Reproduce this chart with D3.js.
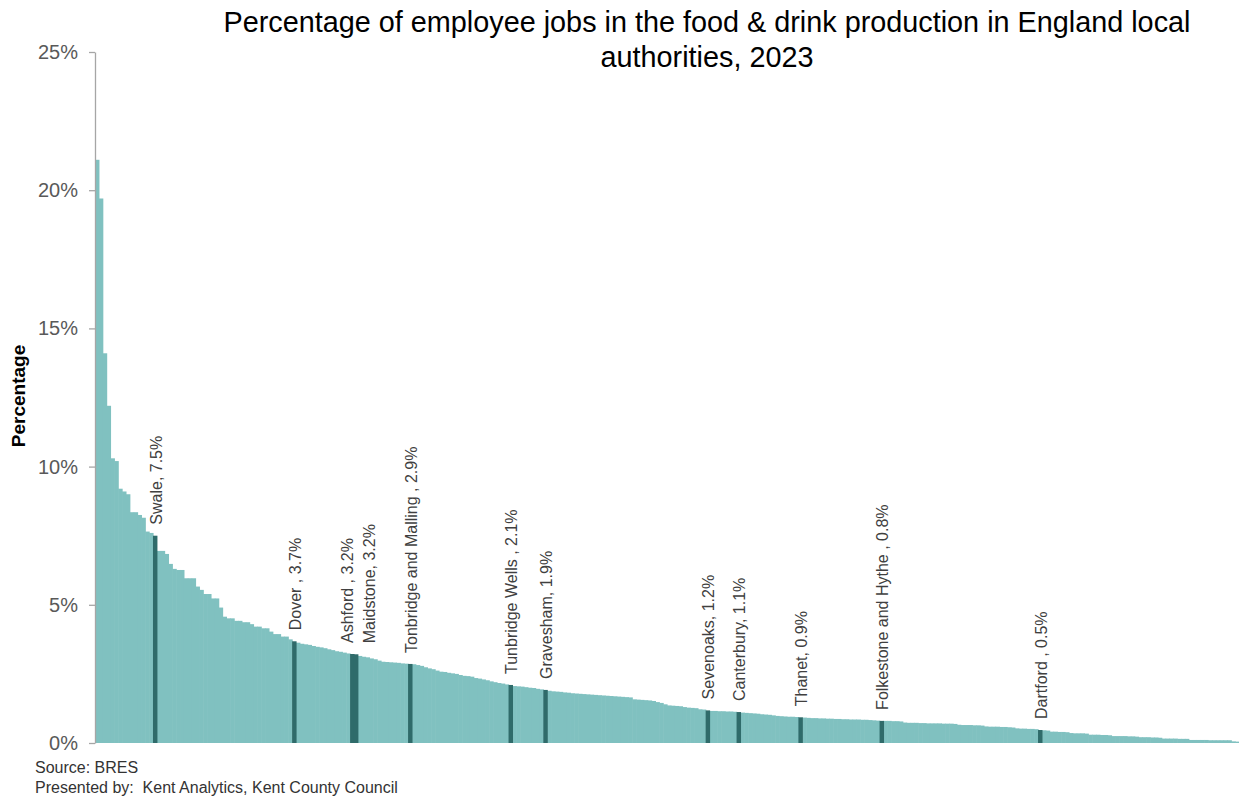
<!DOCTYPE html>
<html>
<head>
<meta charset="utf-8">
<script src="https://cdn.jsdelivr.net/npm/d3@7"></script>
<style>
  html, body { margin: 0; padding: 0; background: #fff; }
  svg { display: block; font-family: "Liberation Sans", Arial, sans-serif; }
</style>
</head>
<body>
<svg id="chart" width="1239" height="796"></svg>
<script>
// Share of employee jobs in food & drink production, England local authorities (sorted, %)
const values = [
  21.1, 19.7, 14.1, 12.2, 10.3, 10.2, 9.2, 9.1, 9.0, 8.35, 8.35, 8.25, 8.15, 7.65, 7.6, 7.5,
  6.95, 6.95, 6.84, 6.48, 6.3, 6.26, 6.26, 5.96, 5.96, 5.96, 5.66, 5.54, 5.39, 5.39, 5.23, 5.23,
  4.9, 4.57, 4.51, 4.51, 4.42, 4.42, 4.37, 4.37, 4.3, 4.21, 4.21, 4.15, 4.15, 4.03, 3.94, 3.94,
  3.85, 3.85, 3.75, 3.68,
  3.63, 3.59, 3.57, 3.55, 3.51, 3.48, 3.46, 3.43, 3.39, 3.36,
  3.32, 3.3, 3.27, 3.24, 3.22, 3.21,
  3.15, 3.12, 3.1, 3.06, 3.03, 2.98, 2.94, 2.93, 2.92, 2.91,
  2.9, 2.88, 2.87, 2.86,
  2.85, 2.82, 2.79, 2.74, 2.7, 2.67, 2.62, 2.58, 2.57, 2.54,
  2.52, 2.5, 2.46, 2.43, 2.42, 2.4, 2.35, 2.33, 2.3, 2.27,
  2.23, 2.2, 2.17, 2.15, 2.12, 2.1,
  2.06, 2.05, 2.04, 2.02, 2.0, 1.99, 1.96, 1.94, 1.92, 1.89, 1.87,
  1.86, 1.85, 1.83, 1.82, 1.8, 1.79, 1.78, 1.77, 1.76, 1.75,
  1.74, 1.73, 1.72, 1.71, 1.7, 1.69, 1.68, 1.67, 1.66, 1.65,
  1.58, 1.57, 1.56, 1.55, 1.54, 1.52, 1.48, 1.45, 1.4, 1.36,
  1.35, 1.34, 1.33, 1.3, 1.28, 1.27, 1.26, 1.22, 1.21, 1.18,
  1.16, 1.16, 1.15, 1.15, 1.14, 1.14, 1.13, 1.12,
  1.1, 1.09, 1.08, 1.07, 1.06, 1.04, 1.03, 1.02, 1.0, 0.98,
  0.97, 0.96, 0.95, 0.95, 0.94, 0.93,
  0.92, 0.91, 0.9, 0.9, 0.89, 0.89, 0.88, 0.88, 0.87, 0.87,
  0.86, 0.86, 0.85, 0.85, 0.85, 0.84, 0.84, 0.83, 0.82, 0.81,
  0.8,
  0.8, 0.8, 0.79, 0.79, 0.78, 0.74, 0.73, 0.73, 0.73, 0.72,
  0.72, 0.71, 0.71, 0.71, 0.71, 0.7, 0.7, 0.7, 0.69, 0.66,
  0.65, 0.65, 0.65, 0.64, 0.64, 0.63, 0.6, 0.59, 0.59, 0.59,
  0.58, 0.58, 0.57, 0.56, 0.53, 0.52, 0.52, 0.51, 0.51, 0.5,
  0.47,
  0.46, 0.45, 0.41, 0.41, 0.4, 0.4, 0.39, 0.36, 0.35, 0.35,
  0.35, 0.34, 0.3, 0.3, 0.3, 0.29, 0.29, 0.28, 0.25, 0.25,
  0.25, 0.25, 0.24, 0.24, 0.23, 0.21, 0.21, 0.21, 0.2, 0.2,
  0.19, 0.16, 0.16, 0.16, 0.16, 0.15, 0.15, 0.15, 0.11, 0.11,
  0.11, 0.11, 0.11, 0.1, 0.1, 0.1, 0.1, 0.1, 0.1, 0.06,
  0.05
];
const categories = values.map((_, i) => i); // rank order of the authorities

// Kent authorities (highlighted)
const kentRank   = [15, 51, 66, 67, 81, 107, 116, 158, 166, 182, 203, 244];
const kentLabels = [
  "Swale, 7.5%", "Dover , 3.7%", "Ashford , 3.2%", "Maidstone, 3.2%",
  "Tonbridge and Malling , 2.9%", "Tunbridge Wells , 2.1%", "Gravesham, 1.9%",
  "Sevenoaks, 1.2%", "Canterbury, 1.1%", "Thanet, 0.9%",
  "Folkestone and Hythe , 0.8%", "Dartford , 0.5%"
];
const yTicks = [0, 5, 10, 15, 20, 25];

const titleLines = ["Percentage of employee jobs in the food & drink production in England local", "authorities, 2023"];

// ---- layout
const svg = d3.select("#chart");
const m = { left: 95, right: 0, top: 52, bottom: 53 };
const W = 1239, H = 796;
const x = d3.scaleBand().domain(categories).range([m.left, W - m.right]).padding(0);
const y = d3.scaleLinear().domain([0, 25]).range([H - m.bottom, m.top]);

const light = "#80C1C0", dark = "#2F6B6A";
const kentSet = new Set(kentRank);

// bars
svg.append("g").selectAll("rect").data(categories.filter(i => !kentSet.has(i))).join("rect")
  .attr("x", i => x(i))
  .attr("width", x.bandwidth() + 0.6)
  .attr("y", i => y(values[i]))
  .attr("height", i => y(0) - y(values[i]))
  .attr("fill", light);
svg.append("g").selectAll("rect").data(kentRank).join("rect")
  .attr("x", i => x(i))
  .attr("width", x.bandwidth() + 0.6)
  .attr("y", i => y(values[i]))
  .attr("height", i => y(0) - y(values[i]))
  .attr("fill", dark);

// y axis
const yAxis = d3.axisLeft(y).tickValues(yTicks).tickFormat(d => d + "%").tickSize(6).tickSizeOuter(0).tickPadding(11);
const ga = svg.append("g").attr("transform", `translate(${m.left},0)`).call(yAxis);
ga.select(".domain").attr("stroke", "#A6A6A6").attr("stroke-width", 1.3);
ga.selectAll(".tick line").attr("stroke", "#A6A6A6").attr("stroke-width", 1.3);
ga.selectAll(".tick text").attr("fill", "#595959").style("font-size", "20px")
  .style("font-family", "'Liberation Sans', Arial, sans-serif");

// y title
svg.append("text")
  .attr("transform", `translate(25,396) rotate(-90)`)
  .attr("text-anchor", "middle")
  .style("font-size", "19px").style("font-weight", "bold").attr("fill", "#000")
  .text("Percentage");

// bar labels
const nudge = { 66: -6, 67: 13 };
svg.append("g").selectAll("text").data(kentRank).join("text")
  .attr("transform", (i) => {
    const cx = x(i) + x.bandwidth() / 2 + 1 + (nudge[i] || 0);
    const cy = y(values[i]) - 11;
    return `translate(${cx},${cy}) rotate(-90)`;
  })
  .attr("dy", "0.35em")
  .attr("text-anchor", "start")
  .style("font-size", "16px")
  .attr("fill", "#404040")
  .text((i, k) => kentLabels[k]);

// title
svg.append("g").selectAll("text").data(titleLines).join("text")
  .attr("x", 707).attr("y", (d, k) => 32 + k * 35)
  .attr("text-anchor", "middle")
  .style("font-size", "28.8px").attr("fill", "#000")
  .text(d => d);

// footer
svg.append("text").attr("x", 35).attr("y", 773).style("font-size", "16px").attr("fill", "#333")
  .text("Source: BRES");
svg.append("text").attr("x", 35).attr("y", 793).style("font-size", "16px").attr("fill", "#333")
  .attr("xml:space", "preserve").style("white-space", "pre")
  .text("Presented by:  Kent Analytics, Kent County Council");
</script>
</body>
</html>
